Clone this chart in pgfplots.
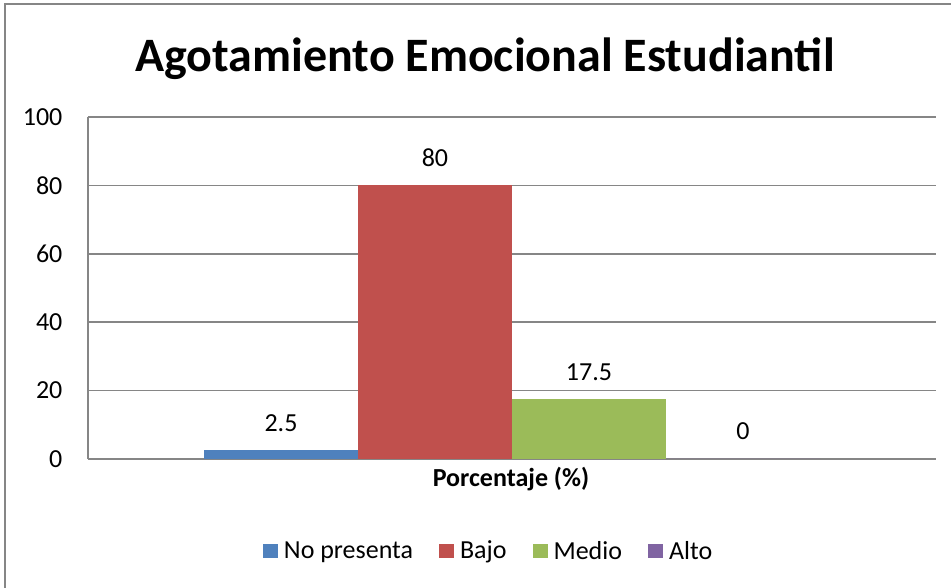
\documentclass[border=0pt]{standalone}
\usepackage{fontspec}
\setmainfont{Carlito}
\usepackage{pgfplots}
\pgfplotsset{compat=1.18}
\definecolor{cblue}{HTML}{4F81BD}
\definecolor{cred}{HTML}{C0504D}
\definecolor{cgreen}{HTML}{9BBB59}
\definecolor{cpurple}{HTML}{8064A2}
\definecolor{cgrid}{HTML}{868686}
\begin{document}
\begin{tikzpicture}
\path[use as bounding box] (0pt,0pt) rectangle (713.25pt,441pt);
\draw[cgrid, line width=1.2pt] (3.75pt,0pt) -- (3.75pt,438pt) -- (713.25pt,438pt);
\node[anchor=base, font=\fontsize{36}{40}\selectfont\bfseries] at (363.75pt,387pt) {Agotamiento Emocional Estudiantil};
\begin{axis}[
  at={(66pt,96.75pt)}, anchor=south west,
  scale only axis, width=636pt, height=256.5pt,
  xmin=-1.253, xmax=4.253, ymin=0, ymax=100,
  ytick={0,20,40,60,80,100},
  xtick=\empty,
  axis x line*=bottom, axis y line*=left,
  axis line style={cgrid, line width=1.1pt, -},
  ymajorgrids, grid style={cgrid, line width=1.1pt},
  major tick length=0pt,
  tick label style={font=\fontsize{19.5}{22}\selectfont},
  /pgf/number format/assume math mode=true,
  yticklabel style={anchor=east, inner sep=0pt, xshift=-19pt},
  ybar, bar width=115.5pt, bar shift=0pt,
  nodes near coords,
  every node near coord/.append style={font=\fontsize{19.5}{22}\selectfont, anchor=south, inner sep=0pt, yshift=14pt},
  xlabel={\bfseries Porcentaje (\%)},
  xlabel style={font=\fontsize{19.5}{22}\selectfont, at={(axis description cs:0.4988,0)}, anchor=base, yshift=-21pt, inner sep=0pt},
  legend columns=4,
  legend style={draw=none, fill=none, at={(axis description cs:0.4728,-0.269)}, anchor=center,
    font=\fontsize{19.5}{22}\selectfont, inner sep=0pt,
    /tikz/every odd column/.append style={column sep=2.5pt},
    /tikz/every even column/.append style={column sep=17.5pt}},
  legend image code/.code={\fill[#1] (0pt,-5.6pt) rectangle (11.25pt,5.6pt);},
  clip=false,
]
\addplot[fill=cblue, draw=none] coordinates {(0,2.5)};
\addlegendentry{No presenta}
\addplot[fill=cred, draw=none] coordinates {(1,80)};
\addlegendentry{Bajo}
\addplot[fill=cgreen, draw=none] coordinates {(2,17.5)};
\addlegendentry{Medio}
\addplot[fill=cpurple, draw=none] coordinates {(3,0)};
\addlegendentry{Alto}
\end{axis}
\end{tikzpicture}
\end{document}
